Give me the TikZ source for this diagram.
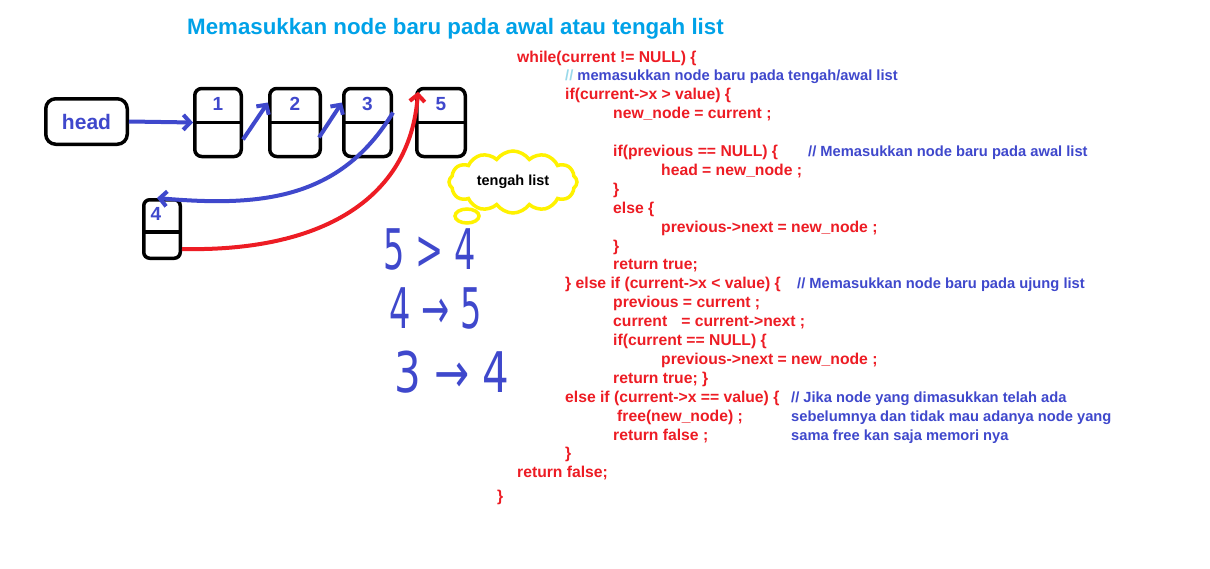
\documentclass[tikz,border=0pt]{standalone}
\usepackage{fontspec}
\setmainfont{Liberation Sans}
\newfontfamily\handfont{DejaVu Sans}
\usepackage{tikz}
\usetikzlibrary{positioning,arrows.meta,shapes.symbols,shapes.geometric}
\usepackage{xcolor}
\definecolor{pblue}{RGB}{63,72,204}
\definecolor{pred}{RGB}{237,28,36}
\definecolor{psky}{RGB}{0,162,232}
\definecolor{pslash}{RGB}{153,217,234}
\definecolor{pyellow}{RGB}{255,242,0}

\begin{document}
\begin{tikzpicture}[x=1pt,y=-1pt,>={Straight Barb[length=7pt,width=15pt]},
  cell/.style={draw,line width=3.5pt,rounded corners=7pt,inner sep=0pt},
  num/.style={text=pblue,font=\bfseries\fontsize{19}{19}\selectfont},
  blink/.style={->,draw=pblue,line width=4pt},
  rlink/.style={->,draw=pred,line width=4pt},
  code/.style={anchor=base west,inner sep=0pt,text=pred,font=\bfseries\fontsize{15.7}{16}\selectfont},
  note/.style={anchor=base west,inner sep=0pt,text=pblue,font=\bfseries\fontsize{14.7}{16}\selectfont},
  hand/.style={text=pblue,inner sep=0pt,font=\handfont\fontsize{56}{56}\selectfont}]
\path[fill=white] (0,0) rectangle (1210,568);
\node[anchor=base west,inner sep=0pt,text=psky,font=\bfseries\fontsize{22.3}{24}\selectfont] (title) at (187,34) {Memasukkan node baru pada awal atau tengah list};

\node[cell,rounded corners=10pt,minimum width=81.5pt,minimum height=45.5pt,text=pblue,font=\bfseries\fontsize{21}{21}\selectfont] (head) at (86.5,121.5) {head};
\foreach \n/\x/\w in {1/218/46.5,2/295/50.5,3/367.5/47.5,5/441/48.5}{
  \node[cell,minimum width=\w pt,minimum height=68pt] (n\n) at (\x,122.5) {};
  \draw[line width=3.5pt] (n\n.west) -- (n\n.east);
  \node[num] (l\n) at (\x,104) {\n};
}
\node[cell,rounded corners=6pt,minimum width=36.5pt,minimum height=58.5pt] (n4) at (162,229) {};
\draw[line width=3.5pt] ([yshift=-3pt]n4.west) -- ([yshift=-3pt]n4.east);
\node[num] (l4) at (156,214) {4};

\draw[blink] (head.east) -- (n1.west);
\draw[blink] ([yshift=-17pt]n1.east) -- ([yshift=20pt]n2.west);
\draw[blink] ([xshift=-3pt,yshift=-15pt]n2.east) -- ([yshift=20pt]n3.west);
\draw[blink] ([yshift=10pt]n3.east) .. controls (340,200) and (260,207) .. ([xshift=-5pt]n4.north);
\draw[rlink] ([yshift=-20pt]n4.east) .. controls (320,252) and (410,200) .. ([xshift=3pt,yshift=-5pt]n5.north west);

\node[cloud,cloud ignores aspect,draw=pyellow,line width=3.5pt,cloud puffs=12,cloud puff arc=110,minimum width=128pt,minimum height=62pt,inner sep=0pt,font=\bfseries\fontsize{14.5}{15}\selectfont] (cloud) at (513,182) {tengah list};
\node[ellipse,draw=pyellow,line width=3.5pt,minimum width=24pt,minimum height=14pt,inner sep=0pt] (tail) at (467,216) {};

\node[hand,xscale=.6] (h1) at (430,249) {5 > 4};
\node[hand,xscale=.6] (h2) at (436,308) {4 → 5};
\node[hand,xscale=.75] (h3) at (452,372) {3 → 4};

\foreach \i/\x/\t in {0/517/{while(current != NULL) \{},
  2/565/{if(current->x > value) \{},
  3/613/{new\_node = current ;},
  5/613/{if(previous == NULL) \{},
  6/661/{head = new\_node ;},
  7/613/{\}},
  8/613/{else \{},
  9/661/{previous->next = new\_node ;},
  10/613/{\}},
  11/613/{return true;},
  12/565/{\} else if (current->x < value) \{},
  13/613/{previous = current ;},
  14/613/{current\hspace{14pt}= current->next ;},
  15/613/{if(current == NULL) \{},
  16/661/{previous->next = new\_node ;},
  17/613/{return true; \}},
  18/565/{else if (current->x == value) \{},
  19/617/{free(new\_node) ;},
  20/613/{return false ;},
  21/565/{\}},
  22/517/{return false;}}
  \node[code] (c\i) at (\x,{62+18.9*\i}) {\t};
\node[code] (cend) at (497,501) {\}};

\node[note] (m1) at (565,80.9) {\textcolor{pslash}{//} memasukkan node baru pada tengah/awal list};
\node[note] (m2) at (808,156.5) {// Memasukkan node baru pada awal list};
\node[note] (m3) at (797,288.8) {// Memasukkan node baru pada ujung list};
\node[note] (m4) at (791,402.2) {// Jika node yang dimasukkan telah ada};
\node[note] (m5) at (791,421.1) {sebelumnya dan tidak mau adanya node yang};
\node[note] (m6) at (791,440) {sama free kan saja memori nya};
\end{tikzpicture}
\end{document}
